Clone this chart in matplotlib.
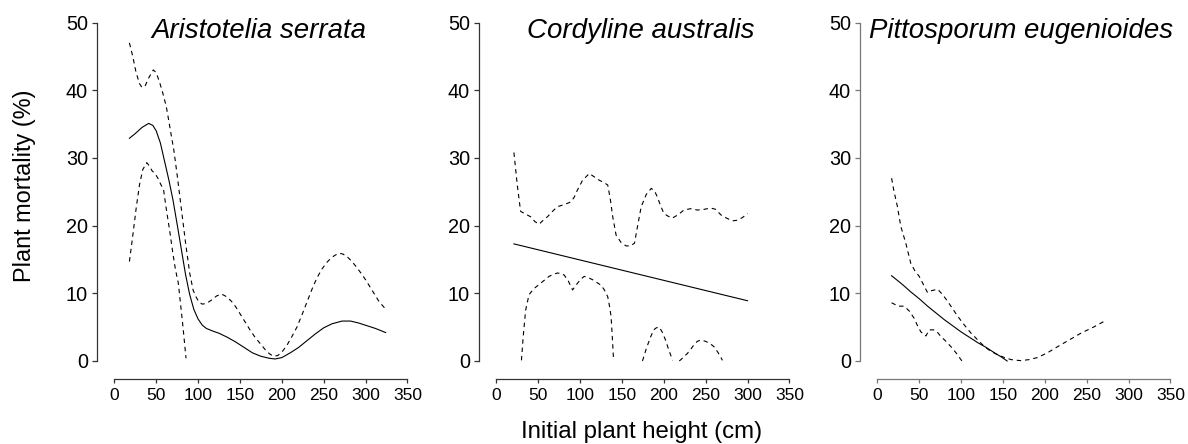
import numpy as np
import matplotlib
matplotlib.use("Agg")
import matplotlib.pyplot as plt

plt.rcParams["font.family"] = ["Liberation Sans", "DejaVu Sans"]

nan = np.nan

# Aristotelia serrata
as_x = [18, 25, 33, 41, 46, 50, 55, 60, 65, 70, 75, 80, 85, 90, 95, 100, 105, 110, 118, 125, 135, 145, 155, 165, 175, 185, 192, 200, 210, 220, 230, 240, 250, 260, 272, 282, 292, 302, 312, 324]
as_fit = [32.9, 33.6, 34.5, 35.1, 34.8, 34.0, 32.2, 29.5, 26.8, 23.8, 20.2, 16.5, 12.8, 9.8, 7.6, 6.2, 5.3, 4.8, 4.4, 4.1, 3.5, 2.8, 2.0, 1.2, 0.7, 0.4, 0.3, 0.5, 1.2, 2.0, 3.0, 4.0, 4.9, 5.5, 5.9, 5.9, 5.6, 5.2, 4.8, 4.2]
as_up_x = [18, 22, 26, 30, 33, 37, 41, 46.5, 50, 54, 58.5, 62, 65, 68, 71, 75, 80, 85, 90, 94, 97, 101, 105, 110, 116, 122, 128, 134, 140, 145, 150, 156, 162, 168, 174, 178, 182, 186, 190, 195, 200, 206, 212, 218, 224, 230, 236, 242, 248, 254, 258, 262, 266, 269, 273, 278, 283, 289, 295, 300, 305, 310, 316, 323]
as_up = [47.0, 45.0, 42.6, 41.0, 40.4, 40.7, 41.8, 43.0, 42.6, 41.2, 39.3, 37.6, 35.5, 33.3, 31.2, 27.5, 22.5, 17.5, 13.0, 10.5, 9.6, 8.7, 8.4, 8.5, 9.0, 9.6, 9.9, 9.5, 8.8, 8.0, 7.0, 5.8, 4.6, 3.5, 2.6, 2.0, 1.4, 1.0, 0.7, 0.8, 1.3, 2.3, 3.6, 5.0, 6.8, 8.7, 10.6, 12.3, 13.6, 14.6, 15.1, 15.5, 15.8, 15.9, 15.8, 15.4, 14.8, 13.9, 12.9, 12.0, 11.0, 10.0, 8.8, 7.8]
as_lo_x = [18, 22, 26, 30, 34, 38.7, 42, 45, 48.6, 52, 55, 58.8, 62, 66.5, 70, 73, 76.4, 79, 82, 85.6]
as_lo = [14.7, 18.5, 22.5, 26.0, 28.3, 29.3, 28.8, 28.1, 27.7, 27.0, 26.2, 25.3, 22.5, 18.9, 15.8, 13.5, 11.5, 8.5, 5.0, 0.4]

# Cordyline australis
ca_x = [21, 300]
ca_fit = [17.3, 8.9]
ca_up_x = [21, 25, 29, 35, 41, 46, 51, 56, 61, 67, 73, 81, 89, 93, 97, 103, 111, 117, 123, 128, 133, 136, 139, 143, 149, 155, 160, 165, 168, 173, 179, 185, 189, 192, 196, 200, 205, 210, 217, 224, 232, 240, 248, 256, 262, 268, 275, 282, 288, 294, 300]
ca_up = [30.8, 26.0, 22.1, 21.7, 21.3, 20.6, 20.2, 20.8, 21.3, 22.1, 22.8, 23.1, 23.5, 24.2, 25.3, 26.7, 27.7, 27.2, 26.7, 26.4, 26.0, 24.0, 21.3, 18.6, 17.5, 17.0, 17.0, 17.4, 19.5, 22.8, 24.6, 25.5, 25.1, 24.3, 23.0, 21.8, 21.4, 21.1, 21.6, 22.3, 22.5, 22.3, 22.4, 22.6, 22.4, 21.6, 21.1, 20.7, 20.8, 21.2, 21.8]
ca_lo_x = [30, 32, 35, 39, 45, 53, 58, 63, 68, 73, 78, 81, 86, 91, 94, 97, 101, 105, 110, 115, 120, 125, 129, 133, 135, 137, 138.5, 140,
           141, 174.5, 179, 184, 188, 191, 194.5, 198, 202, 206, 210.5, 214, 218.5, 223, 228, 232, 236, 240, 244, 250, 256, 260, 265, 270]
ca_lo = [0.1, 3.5, 7.5, 9.8, 10.7, 11.5, 12.0, 12.5, 12.8, 13.0, 12.9, 12.7, 11.8, 10.5, 11.0, 11.5, 12.1, 12.5, 12.3, 12.0, 11.6, 11.2, 10.5, 9.5, 8.2, 6.6, 3.5, 0.1,
         nan, 0.0, 1.8, 3.5, 4.6, 4.9, 5.0, 4.3, 3.1, 1.6, 0.1, nan, 0.0, 0.5, 1.1, 1.7, 2.4, 2.9, 3.1, 2.9, 2.5, 2.1, 1.2, 0.1]

# Pittosporum eugenioides
pe_x = [17, 30, 40, 50, 60, 70, 80, 90, 100, 110, 120, 130, 140, 148, 155]
pe_fit = [12.6, 11.3, 10.2, 9.2, 8.1, 7.1, 6.1, 5.2, 4.3, 3.5, 2.7, 2.0, 1.2, 0.6, 0.0]
pe_up_x = [17, 20, 24, 28, 34, 40, 45, 50, 55, 60, 65, 72, 78, 84, 90, 96, 104, 112, 120, 128, 136, 144, 152, 160, 171, 181, 191, 203, 215, 229, 243, 258, 273]
pe_up = [27.0, 25.0, 22.8, 19.9, 17.4, 14.4, 13.3, 12.5, 11.3, 10.1, 10.4, 10.6, 9.8, 8.8, 7.7, 6.6, 5.3, 4.1, 3.1, 2.1, 1.4, 0.9, 0.5, 0.2, 0.05, 0.2, 0.5, 1.2, 2.1, 3.1, 4.1, 5.0, 6.0]
pe_lo_x = [17, 25, 32, 38, 44, 48, 52, 58, 62, 68, 72, 76, 82, 88, 94, 101]
pe_lo = [8.6, 8.1, 8.1, 7.4, 6.3, 5.2, 4.3, 3.7, 4.6, 4.6, 4.2, 3.6, 2.9, 2.1, 1.2, 0.0]

panels = [
    ("Aristotelia serrata", as_x, as_fit, as_up_x, as_up, as_lo_x, as_lo, "#333333"),
    ("Cordyline australis", ca_x, ca_fit, ca_up_x, ca_up, ca_lo_x, ca_lo, "#333333"),
    ("Pittosporum eugenioides", pe_x, pe_fit, pe_up_x, pe_up, pe_lo_x, pe_lo, "#777777"),
]

W, H = 1188, 444
fig = plt.figure(figsize=(W / 100, H / 100), dpi=100)
lefts = [97, 479, 860]
dash = (0, (4, 3.5))

for left, (name, fx, fy, ux, uy, lx, ly, spc) in zip(lefts, panels):
    ax = fig.add_axes([left / W, (H - 379) / H, 323 / W, 370 / H])
    ax.plot(fx, fy, color="black", lw=0.8)
    ax.plot(ux, uy, color="black", lw=0.8, linestyle=dash)
    ax.plot(lx, ly, color="black", lw=0.8, linestyle=dash)
    ax.set_xlim(-20.7, 365)
    ax.set_ylim(-2.66, 52)
    for s in ["top", "right"]:
        ax.spines[s].set_visible(False)
    ax.spines["left"].set_bounds(0, 50)
    ax.spines["bottom"].set_bounds(0, 350)
    for s in ["left", "bottom"]:
        ax.spines[s].set_color(spc)
        ax.spines[s].set_linewidth(0.9)
    ax.set_yticks([0, 10, 20, 30, 40, 50])
    ax.set_xticks(range(0, 351, 50))
    ax.tick_params(axis="y", labelsize=14.3, length=3.5, width=0.9, color=spc, pad=3)
    ax.tick_params(axis="x", labelsize=12.5, length=3, width=0.9, color=spc, pad=3.5)
    ax.patch.set_visible(False)
    ax.text(0.5, 0.922, name, transform=ax.transAxes, ha="center", va="baseline",
            fontsize=19.9, style="italic")

fig.text(25 / W, 1 - 186 / H, "Plant mortality (%)", rotation=90, ha="center", va="center", fontsize=16.9)
fig.text(642 / W, 1 - 432 / H, "Initial plant height (cm)", ha="center", va="center", fontsize=17.3)

fig.savefig("out.png", dpi=100)
